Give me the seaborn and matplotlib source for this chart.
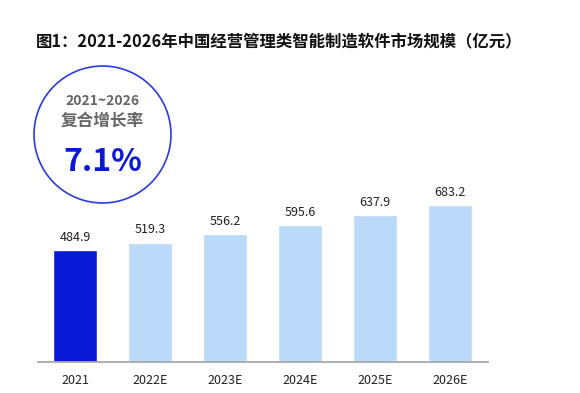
import seaborn as sns
import matplotlib.pyplot as plt
from matplotlib.patches import Circle

years = ["2021", "2022E", "2023E", "2024E", "2025E", "2026E"]
market_size = [484.9, 519.3, 556.2, 595.6, 637.9, 683.2]
bar_colors = ["#0A19D8", "#BBDAF9", "#BBDAF9", "#BBDAF9", "#BBDAF9", "#BBDAF9"]

title = "图1：2021-2026年中国经营管理类智能制造软件市场规模（亿元）"
cagr_period = "2021~2026"
cagr_label = "复合增长率"
cagr_value = "7.1%"

sns.set_theme(style="white")
plt.rcParams['font.family'] = ['Noto Sans CJK SC', 'DejaVu Sans']

W, H = 580, 393
fig = plt.figure(figsize=(W / 100, H / 100), dpi=100)
ax = fig.add_axes([37.5 / W, 31 / H, 450 / W, 184 / H])

sns.barplot(x=years, y=market_size, hue=years, palette=bar_colors,
            legend=False, width=0.587, saturation=1, ax=ax)
ax.set_xlim(-0.5, 5.5)
ax.set_ylim(0, 800)

for i, v in enumerate(market_size):
    ax.annotate(f"{v:.1f}", (i, v), xytext=(0, 4.5), textcoords="offset points",
                ha="center", va="bottom", fontsize=9, color="#222222")

for s in ["top", "left", "right"]:
    ax.spines[s].set_visible(False)
ax.spines["bottom"].set_color("#A8A8B0")
ax.spines["bottom"].set_linewidth(1.3)
ax.set_yticks([])
ax.tick_params(axis="x", length=0, pad=9, labelsize=9, labelcolor="#222222")
ax.set_xlabel("")
ax.set_ylabel("")

# overlay in pixel coordinates for the title and the CAGR bubble
ov = fig.add_axes([0, 0, 1, 1])
ov.set_xlim(0, W)
ov.set_ylim(H, 0)
ov.axis("off")
ov.patch.set_alpha(0)

ov.text(279, 41, title, ha="center", va="center", fontsize=11.8,
        fontweight="bold", color="#111111")
ov.add_patch(Circle((102.5, 134.5), 68.5, fill=False, edgecolor="#2A3BE0", lw=1.2))
ov.text(102.5, 101, cagr_period, ha="center", va="center", fontsize=10,
        fontweight="bold", color="#666666")
ov.text(102.5, 121, cagr_label, ha="center", va="center", fontsize=12,
        fontweight="bold", color="#666666")
ov.text(102.5, 162, cagr_value, ha="center", va="center", fontsize=23,
        fontweight="bold", color="#0A19D8")

fig.savefig("out.png", dpi=100)
